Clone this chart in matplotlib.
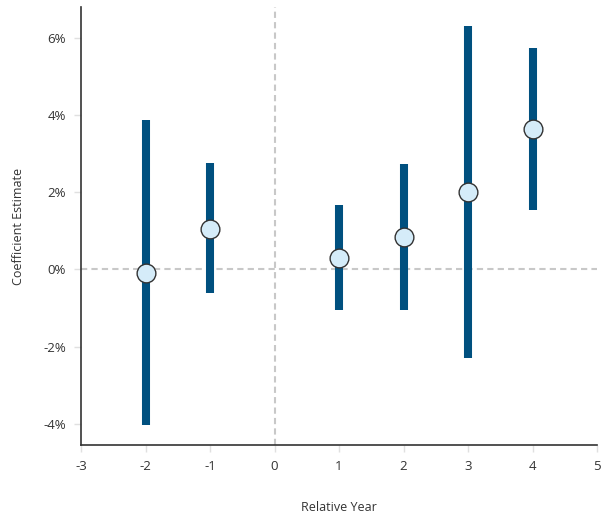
import matplotlib
matplotlib.use("Agg")
import matplotlib.pyplot as plt
from matplotlib.ticker import FuncFormatter

# event-study coefficients (in %)
years = [-2, -1, 1, 2, 3, 4]
coef = [-0.08, 1.06, 0.29, 0.83, 2.00, 3.63]
ci_low = [-4.02, -0.60, -1.06, -1.06, -2.29, 1.53]
ci_high = [3.87, 2.77, 1.66, 2.72, 6.32, 5.75]

x_ticks = [-3, -2, -1, 0, 1, 2, 3, 4, 5]
y_ticks = [-4, -2, 0, 2, 4, 6]

plt.rcParams['font.family'] = ['Open Sans', 'DejaVu Sans']
plt.rcParams['axes.unicode_minus'] = False

fig = plt.figure(figsize=(6.01, 5.21), dpi=100)
ax = fig.add_axes([81 / 601, 76 / 521, 516 / 601, 438 / 521])

ax.axhline(0, color='#c8c8c8', lw=1.5, ls=(0, (3, 2)), zorder=1)
ax.axvline(0, color='#c8c8c8', lw=1.5, ls=(0, (3, 2)), zorder=1)

ax.vlines(years, ci_low, ci_high, color='#00507f', lw=5.8, zorder=2)
ax.plot(years, coef, 'o', ms=13.5, mfc='#d5ecf9', mec='#333333', mew=1.0, zorder=3)

ax.set_xlim(-3, 5)
ax.set_ylim(-4.55, 6.8)
ax.set_xticks(x_ticks)
ax.set_yticks(y_ticks)
ax.xaxis.set_major_formatter(FuncFormatter(lambda v, p: f"{v:.0f}"))
ax.yaxis.set_major_formatter(FuncFormatter(lambda v, p: f"{v:.0f}%"))

for s in ['top', 'right']:
    ax.spines[s].set_visible(False)
for s in ['left', 'bottom']:
    ax.spines[s].set_color('#333333')
    ax.spines[s].set_linewidth(1.2)

ax.tick_params(axis='both', colors='#e0e0e0', labelcolor='#333333',
               labelsize=9.5, length=5, width=1, pad=6)

ax.set_xlabel('Relative Year', fontsize=9, color='#333333', labelpad=20)
ax.set_ylabel('Coefficient Estimate', fontsize=9, color='#333333', labelpad=13)

fig.savefig('out.png', dpi=100)
